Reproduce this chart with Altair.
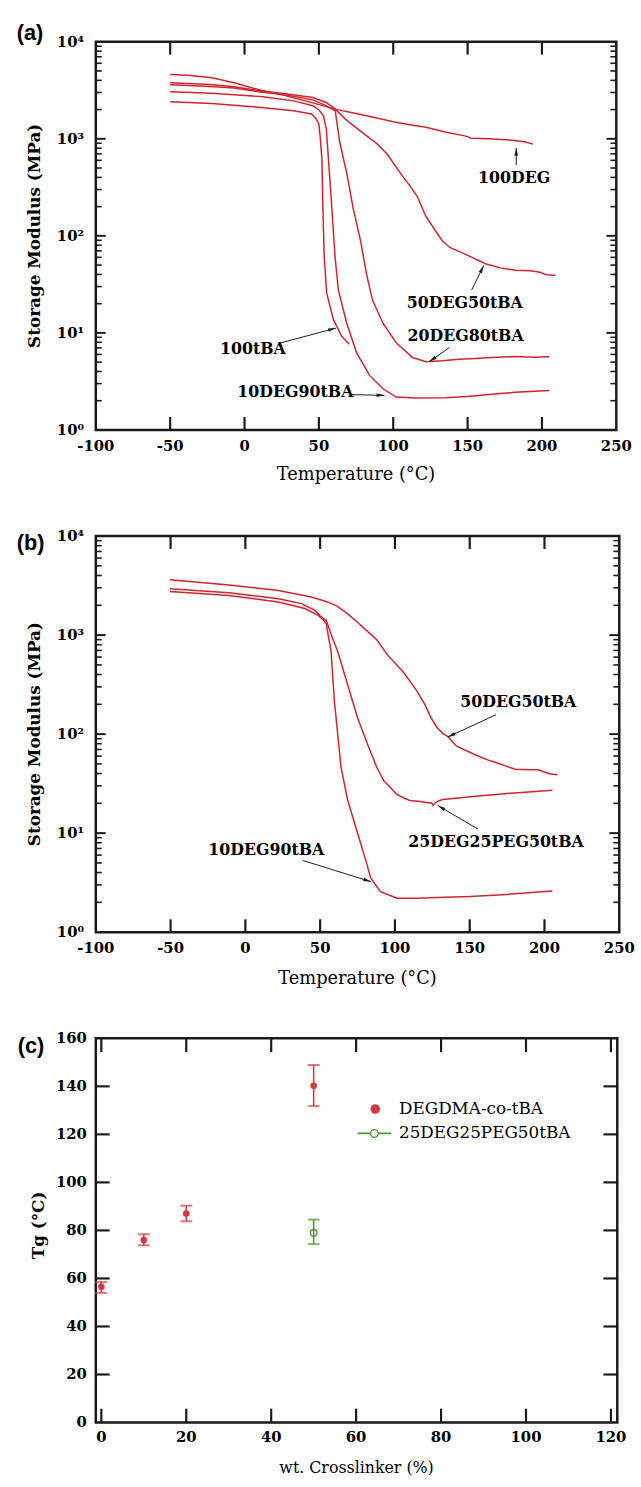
import math
import altair as alt
import pandas as pd

FONT = "DejaVu Serif"
TAG_FONT = "Liberation Sans"
CURVE = "#d2232e"
RED = "#d63a45"
GREEN = "#4a9a2c"
INK = "#1a1a1a"

# ---------------- panel (a): storage modulus (log10 MPa) vs temperature ----------------
a_100DEG_T = [-50, -38, -22, -7, 11, 26, 46, 61, 75, 89, 100, 111, 122, 135, 148, 151, 152, 165, 180, 188, 194]
a_100DEG_L = [3.662, 3.655, 3.629, 3.578, 3.500, 3.450, 3.370, 3.306, 3.260, 3.215, 3.175, 3.145, 3.118, 3.070, 3.030, 3.018, 3.005, 3.000, 2.985, 2.970, 2.945]

a_50DEG_T = [-50, -23, -7, 11, 26, 46, 55, 61, 68, 76, 89, 96, 106, 111, 116, 122, 128, 133, 138, 148, 162, 172, 182, 192, 198, 203, 209]
a_50DEG_L = [3.578, 3.560, 3.537, 3.493, 3.466, 3.425, 3.374, 3.306, 3.200, 3.103, 2.950, 2.840, 2.620, 2.520, 2.410, 2.200, 2.060, 1.950, 1.880, 1.814, 1.712, 1.670, 1.645, 1.640, 1.628, 1.600, 1.594]

a_20DEG_T = [-50, -23, -7, 11, 26, 46, 55, 61, 64, 69, 73, 78, 82, 86, 93, 102, 113, 122, 133, 144, 155, 166, 182, 195, 205]
a_20DEG_L = [3.557, 3.540, 3.523, 3.483, 3.456, 3.401, 3.340, 3.289, 2.967, 2.628, 2.289, 1.950, 1.611, 1.340, 1.102, 0.898, 0.746, 0.702, 0.712, 0.729, 0.735, 0.746, 0.756, 0.750, 0.753]

a_10DEG_T = [-50, -22, 11, 33, 46, 50, 53, 55, 56.4, 58.7, 60.9, 63.1, 68.7, 75.3, 84.2, 93.1, 102, 115, 135, 150, 170, 182, 205]
a_10DEG_L = [3.486, 3.469, 3.435, 3.391, 3.340, 3.300, 3.240, 3.103, 2.798, 2.289, 1.780, 1.441, 1.102, 0.797, 0.559, 0.424, 0.339, 0.329, 0.332, 0.345, 0.372, 0.388, 0.407]

a_100tBA_T = [-50, -22, 11, 33, 45, 48, 50, 51, 52, 52.7, 53.6, 55.3, 59.8, 65.3, 70.4]
a_100tBA_L = [3.381, 3.364, 3.323, 3.289, 3.255, 3.210, 3.150, 3.000, 2.798, 2.289, 1.780, 1.407, 1.136, 0.966, 0.882]

a_ann_text = ["100DEG", "50DEG50tBA", "20DEG80tBA", "100tBA", "10DEG90tBA"]
a_ann_tx = [181.3, 148.1, 148.7, 5.6, 34.2]
a_ann_ty = [393, 20.5, 9.25, 6.78, 2.45]
a_ann_x1 = [182.7, 152.7, 137.7, 23.3, 72.3]
a_ann_y1 = [536, 27.6, 7.04, 7.8, 2.31]
a_ann_x2 = [182.7, 160.9, 124.1, 61.5, 94.1]
a_ann_y2 = [806, 49.6, 5.03, 11.2, 2.27]

# ---------------- panel (b) ----------------
b_50DEG_T = [-50.5, -10.9, 22.1, 44.1, 55, 61.7, 68, 75, 80, 88, 95, 106, 114.5, 120, 124, 128, 132, 135.4, 141, 154, 162, 170, 180.4, 190, 196, 203, 208.8]
b_50DEG_L = [3.558, 3.507, 3.451, 3.385, 3.335, 3.290, 3.220, 3.130, 3.060, 2.950, 2.800, 2.620, 2.440, 2.300, 2.170, 2.070, 2.005, 1.975, 1.880, 1.789, 1.740, 1.700, 1.645, 1.640, 1.639, 1.600, 1.589]

b_25PEG_T = [-50.5, -10.9, 22.1, 37.5, 46.3, 51.8, 54, 57.5, 61.7, 68.3, 74.9, 81.5, 88, 92.5, 97, 101.3, 106, 110, 117, 121, 124.5, 125.5, 126.5, 129, 132, 154, 180, 205.3]
b_25PEG_L = [3.467, 3.427, 3.368, 3.318, 3.252, 3.168, 3.152, 3.000, 2.836, 2.504, 2.171, 1.905, 1.660, 1.530, 1.460, 1.390, 1.355, 1.330, 1.320, 1.310, 1.305, 1.280, 1.300, 1.325, 1.340, 1.373, 1.406, 1.433]

b_10DEG_T = [-50.5, -10.9, 22.1, 39.7, 48.5, 52.9, 54, 57.3, 59.5, 61.7, 63.9, 68.3, 74.9, 81.5, 83.7, 90.3, 101.5, 114.7, 127.9, 150, 169, 205.3]
b_10DEG_L = [3.441, 3.401, 3.335, 3.268, 3.202, 3.142, 3.120, 2.836, 2.337, 2.005, 1.672, 1.340, 1.007, 0.674, 0.550, 0.409, 0.342, 0.342, 0.350, 0.360, 0.375, 0.415]

b_ann_text = ["50DEG50tBA", "25DEG25PEG50tBA", "10DEG90tBA"]
b_ann_tx = [182.5, 167.6, 14.0]
b_ann_ty = [209, 8.2, 6.67]
b_ann_x1 = [167.6, 155.5, 38.3]
b_ann_y1 = [157, 11.0, 5.3]
b_ann_x2 = [135.3, 128.6, 84.1]
b_ann_y2 = [93.5, 19.0, 3.23]

# ---------------- panel (c): Tg vs crosslinker ----------------
c_x = [0, 10, 20, 50]
c_tg = [56.5, 76.0, 87.0, 140.2]
c_lo = [54.0, 73.8, 83.8, 131.8]
c_hi = [58.5, 78.4, 90.3, 148.9]
c_peg_x = [50]
c_peg_tg = [79.0]
c_peg_lo = [74.3]
c_peg_hi = [84.5]
c_legend = ["DEGDMA-co-tBA", "25DEG25PEG50tBA"]

# ---------------- axis values, labels and titles ----------------
X_LABELS_T = [-100, -50, 0, 50, 100, 150, 200, 250]
X_TICKS_T = [-50, 0, 50, 100, 150, 200]
Y_MAJOR = [1, 10, 100, 1000, 10000]
Y_LABELS = ["10⁰", "10¹", "10²", "10³", "10⁴"]
Y_MINOR = [m * 10 ** k for k in range(4) for m in range(2, 10)]
C_X_LABELS = [0, 20, 40, 60, 80, 100, 120]
C_Y_LABELS = [0, 20, 40, 60, 80, 100, 120, 140, 160]
C_X_TICKS = [0, 20, 40, 60, 80, 100, 120]
C_Y_TICKS = [20, 40, 60, 80, 100, 120, 140]
T_TITLE = "Temperature (°C)"
E_TITLE = "Storage Modulus (MPa)"
C_X_TITLE = "wt. Crosslinker (%)"
C_Y_TITLE = "Tg (°C)"

ARROW = "M0,0 L0.45,2 L-0.45,2 Z"


def inward_ticks(values, X, Y, channel, W, H, length, width):
    """Frame ticks pointing inward from both opposite edges."""
    d = pd.DataFrame({"v": values})
    out = []
    if channel == "x":
        out.append(alt.Chart(d).mark_rule(color=INK, strokeWidth=width).encode(
            x=X("v"), y=alt.value(H), y2=alt.value(H - length)))
        out.append(alt.Chart(d).mark_rule(color=INK, strokeWidth=width).encode(
            x=X("v"), y=alt.value(0), y2=alt.value(length)))
    else:
        out.append(alt.Chart(d).mark_rule(color=INK, strokeWidth=width).encode(
            y=Y("v"), x=alt.value(0), x2=alt.value(length)))
        out.append(alt.Chart(d).mark_rule(color=INK, strokeWidth=width).encode(
            y=Y("v"), x=alt.value(W - length), x2=alt.value(W)))
    return out


def tick_labels(values, labels, X, Y, channel, H, pad, size=15):
    d = pd.DataFrame({"v": values, "t": labels})
    if channel == "x":
        return alt.Chart(d).mark_text(font=FONT, fontSize=size, fontWeight="bold", color="black",
                                      align="center", baseline="top").encode(
            x=X("v"), y=alt.value(H + pad), text="t:N")
    return alt.Chart(d).mark_text(font=FONT, fontSize=size, fontWeight="bold", color="black",
                                  align="right", baseline="middle").encode(
        y=Y("v"), x=alt.value(-pad), text="t:N")


def title_text(text, x, y, size, weight="normal", angle=0):
    d = pd.DataFrame({"t": [text]})
    return alt.Chart(d).mark_text(font=FONT, fontSize=size, fontWeight=weight, color="black",
                                  align="center", baseline="middle", angle=angle).encode(
        x=alt.value(x), y=alt.value(y), text="t:N")


def tag_layer(tag, dx, dy):
    return alt.Chart(pd.DataFrame({"t": [tag]})).mark_text(
        font=TAG_FONT, fontSize=22, fontWeight="bold", align="left",
        baseline="middle", color="black").encode(
        x=alt.value(dx), y=alt.value(dy), text="t:N")


def modulus_panel(curves, ann, W, H, tag, tag_dy, xtitle_dy):
    xs = alt.Scale(domain=[-100, 250], nice=False, zero=False)
    ys = alt.Scale(type="log", domain=[1, 10000], nice=False)
    X = lambda f: alt.X(f + ":Q", scale=xs, axis=None)
    Y = lambda f: alt.Y(f + ":Q", scale=ys, axis=None)

    rows = []
    for name, T, L in curves:
        for i, (t, l) in enumerate(zip(T, L)):
            rows.append({"series": name, "i": i, "T": t, "E": 10 ** l})
    df = pd.DataFrame(rows)
    lines = alt.Chart(df).mark_line(color=CURVE, strokeWidth=1.5).encode(
        x=X("T"), y=Y("E"), detail="series:N", order="i:Q")

    text, tx, ty, x1, y1, x2, y2 = ann
    angs = []
    for a, b, c, d in zip(x1, y1, x2, y2):
        dx = (c - a) * W / 350.0
        dy = -(math.log10(d) - math.log10(b)) * H / 4.0
        angs.append(math.degrees(math.atan2(dx, -dy)) % 360)
    adf = pd.DataFrame({"text": text, "tx": tx, "ty": ty, "x1": x1, "y1": y1,
                        "x2": x2, "y2": y2, "ang": angs})
    arrows = alt.Chart(adf).mark_rule(color=INK, strokeWidth=1).encode(
        x=X("x1"), y=Y("y1"), x2="x2:Q", y2="y2:Q")
    heads = alt.Chart(adf).mark_point(shape=ARROW, filled=True, fill=INK, strokeWidth=0,
                                      size=64, opacity=1).encode(
        x=X("x2"), y=Y("y2"), angle=alt.Angle("ang:Q", scale=None))
    labels = alt.Chart(adf).mark_text(font=FONT, fontSize=16, fontWeight="bold", color="black",
                                      align="center", baseline="middle").encode(
        x=X("tx"), y=Y("ty"), text="text:N")

    layers = [lines, arrows, heads, labels]
    layers += inward_ticks(X_TICKS_T, X, Y, "x", W, H, 13, 2.2)
    layers += inward_ticks([10, 100, 1000], X, Y, "y", W, H, 10, 2)
    layers += inward_ticks(Y_MINOR, X, Y, "y", W, H, 6, 1.6)
    layers.append(tick_labels(X_LABELS_T, [str(v) for v in X_LABELS_T], X, Y, "x", H, 9))
    layers.append(tick_labels(Y_MAJOR, Y_LABELS, X, Y, "y", H, 12))
    layers.append(title_text(T_TITLE, W / 2, H + xtitle_dy, 18))
    layers.append(title_text(E_TITLE, -61, H / 2, 17, "bold", 270))
    layers.append(tag_layer(tag, -80, tag_dy))
    return alt.layer(*layers).properties(width=W, height=H)


chart_a = modulus_panel(
    [("100DEG", a_100DEG_T, a_100DEG_L), ("50DEG50tBA", a_50DEG_T, a_50DEG_L),
     ("20DEG80tBA", a_20DEG_T, a_20DEG_L), ("10DEG90tBA", a_10DEG_T, a_10DEG_L),
     ("100tBA", a_100tBA_T, a_100tBA_L)],
    (a_ann_text, a_ann_tx, a_ann_ty, a_ann_x1, a_ann_y1, a_ann_x2, a_ann_y2),
    527, 393, "(a)", -8.4, 46)

chart_b = modulus_panel(
    [("50DEG50tBA", b_50DEG_T, b_50DEG_L), ("25DEG25PEG50tBA", b_25PEG_T, b_25PEG_L),
     ("10DEG90tBA", b_10DEG_T, b_10DEG_L)],
    (b_ann_text, b_ann_tx, b_ann_ty, b_ann_x1, b_ann_y1, b_ann_x2, b_ann_y2),
    530, 401, "(b)", 6.7, 48)

# ---------------- panel (c) chart ----------------
CW, CH = 528, 389
cxs = alt.Scale(domain=[-1.3, 121.5], nice=False, zero=False)
cys = alt.Scale(domain=[0, 160], nice=False, zero=False)
CX = lambda f: alt.X(f + ":Q", scale=cxs, axis=None)
CY = lambda f: alt.Y(f + ":Q", scale=cys, axis=None)

cdf = pd.DataFrame({"x": c_x, "tg": c_tg, "lo": c_lo, "hi": c_hi})
gdf = pd.DataFrame({"x": c_peg_x, "tg": c_peg_tg, "lo": c_peg_lo, "hi": c_peg_hi})


def errbars(d, color):
    bars = alt.Chart(d).mark_rule(color=color, strokeWidth=1.6).encode(
        x=CX("x"), y=CY("lo"), y2="hi:Q")
    cap_lo = alt.Chart(d).mark_tick(color=color, orient="horizontal", size=12, thickness=2).encode(
        x=CX("x"), y=CY("lo"))
    cap_hi = alt.Chart(d).mark_tick(color=color, orient="horizontal", size=12, thickness=2).encode(
        x=CX("x"), y=CY("hi"))
    return [bars, cap_lo, cap_hi]


red_pts = alt.Chart(cdf).mark_circle(color=RED, size=45, opacity=1).encode(
    x=CX("x"), y=CY("tg"))
green_pts = alt.Chart(gdf).mark_point(shape="circle", filled=False, color=GREEN, size=45,
                                      strokeWidth=1.4, opacity=1).encode(
    x=CX("x"), y=CY("tg"))

leg1 = pd.DataFrame({"t": [c_legend[0]]})
leg2 = pd.DataFrame({"t": [c_legend[1]]})
legend_layers = [
    alt.Chart(leg1).mark_circle(color=RED, size=95, opacity=1).encode(
        x=alt.value(283), y=alt.value(71.6)),
    alt.Chart(leg1).mark_text(font=FONT, fontSize=17, color="black", align="left",
                              baseline="middle").encode(x=alt.value(307), y=alt.value(71.6), text="t:N"),
    alt.Chart(leg2).mark_rule(color=GREEN, strokeWidth=1.8).encode(
        x=alt.value(265), x2=alt.value(299), y=alt.value(96.3)),
    alt.Chart(leg2).mark_point(shape="circle", filled=True, fill="white", stroke=GREEN,
                               strokeWidth=1.4, size=60, opacity=1).encode(
        x=alt.value(282), y=alt.value(96.3)),
    alt.Chart(leg2).mark_text(font=FONT, fontSize=17, color="black", align="left",
                              baseline="middle").encode(x=alt.value(307), y=alt.value(96.3), text="t:N"),
]

c_layers = [red_pts] + errbars(cdf, RED) + errbars(gdf, GREEN) + [green_pts] + legend_layers
c_layers += inward_ticks(C_X_TICKS, CX, CY, "x", CW, CH, 14, 2.2)
c_layers += inward_ticks(C_Y_TICKS, CX, CY, "y", CW, CH, 14, 2.2)
c_layers.append(tick_labels(C_X_LABELS, [str(v) for v in C_X_LABELS], CX, CY, "x", CH, 8))
c_layers.append(tick_labels(C_Y_LABELS, [str(v) for v in C_Y_LABELS], CX, CY, "y", CH, 9))
c_layers.append(title_text(C_X_TITLE, CW / 2, CH + 46, 16))
c_layers.append(title_text(C_Y_TITLE, -57, CH / 2 - 5, 17, "bold", 270))
c_layers.append(tag_layer("(c)", -79, 7.5))
chart_c = alt.layer(*c_layers).properties(width=CW, height=CH)

chart = alt.vconcat(chart_a, chart_b, chart_c, spacing=107.5, bounds="flush").properties(
    padding={"left": 15, "top": 12, "right": 5, "bottom": 0},
    background="white",
).configure_view(stroke=INK, strokeWidth=2.5)

chart.save("out.html", embed_options={"renderer": "svg", "actions": False})
